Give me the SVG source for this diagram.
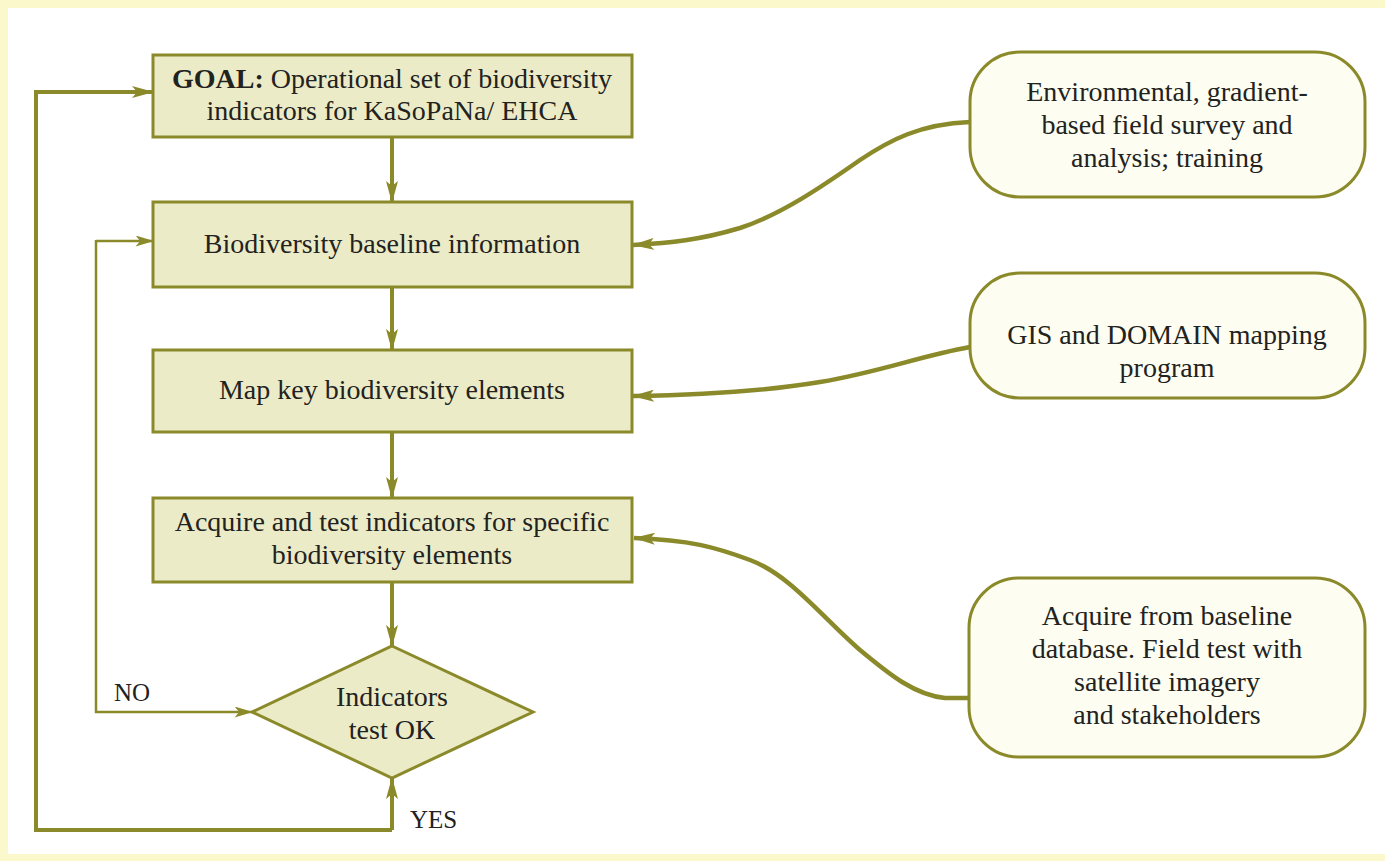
<svg xmlns="http://www.w3.org/2000/svg" width="1385" height="861" viewBox="0 0 1385 861">
<style>
.box{fill:#ecebc8;stroke:#8b8a2b;stroke-width:3}
.rbox{fill:#fdfdf1;stroke:#8b8a2b;stroke-width:3}
.t{font-family:"Liberation Serif","Times New Roman",serif;font-size:28px;fill:#222220;text-anchor:middle}
.lbl{font-family:"Liberation Serif","Times New Roman",serif;font-size:25px;fill:#222220}
.c{fill:none;stroke:#8b8a2b;stroke-width:4;stroke-linejoin:miter}
.cv{fill:none;stroke:#8b8a2b;stroke-width:4.5}
.thin{fill:none;stroke:#8b8a2b;stroke-width:2.5}
</style>
<defs>
<marker id="ah" viewBox="0 0 22 12" refX="21" refY="6" markerWidth="22" markerHeight="12" markerUnits="userSpaceOnUse" orient="auto">
<path d="M0,0 L22,6 L0,12 L5,6 z" fill="#8b8a2b"/>
</marker>
<marker id="ahs" viewBox="0 0 20 12" refX="19" refY="6" markerWidth="19" markerHeight="11" markerUnits="userSpaceOnUse" orient="auto">
<path d="M0,0 L20,6 L0,12 L5,6 z" fill="#8b8a2b"/>
</marker>
</defs>
<rect x="0" y="0" width="1385" height="861" fill="#ffffff"/>
<rect x="0" y="0" width="1385" height="8" fill="#fbf8cc"/>
<rect x="0" y="0" width="8" height="861" fill="#fbf8cc"/>
<rect x="0" y="854" width="1385" height="7" fill="#fbf8cc"/>

<g id="connectors">
<path class="c" d="M392,137 L392,202" marker-end="url(#ah)"/>
<path class="c" d="M392,287 L392,350" marker-end="url(#ah)"/>
<path class="c" d="M392,432 L392,498" marker-end="url(#ah)"/>
<path class="c" d="M392,582 L392,646" marker-end="url(#ah)"/>
<path class="c" d="M392,830 L392,778" marker-end="url(#ah)"/>
<path class="c" d="M392,830 L36,830 L36,92 L153,92" marker-end="url(#ah)"/>
<path class="thin" d="M96,241 L153,241" marker-end="url(#ahs)"/>
<path class="thin" d="M96,240 L96,712 L252,712" marker-end="url(#ahs)"/>
<path class="cv" d="M970,122 C920,124 890,140 860,160 C820,188 780,215 740,228 C700,240 670,243 633,245" marker-end="url(#ah)"/>
<path class="cv" d="M970,347 C920,356 880,372 820,382 C760,392 700,395 633,396" marker-end="url(#ah)"/>
<path class="cv" d="M970,698 L945,698 C915,695 890,675 860,650 C820,615 790,575 750,560 C715,547 690,540 634,538" marker-end="url(#ah)"/>
</g>

<g id="goal">
<rect class="box" x="153" y="55" width="479" height="82"/>
<text class="t" x="392" y="88"><tspan font-weight="bold">GOAL:</tspan> Operational set of biodiversity</text>
<text class="t" x="392" y="120">indicators for KaSoPaNa/ EHCA</text>
</g>
<g id="baseline">
<rect class="box" x="153" y="202" width="479" height="85"/>
<text class="t" x="392" y="253">Biodiversity baseline information</text>
</g>
<g id="map">
<rect class="box" x="153" y="350" width="479" height="82"/>
<text class="t" x="392" y="399">Map key biodiversity elements</text>
</g>
<g id="acquire">
<rect class="box" x="153" y="498" width="479" height="84"/>
<text class="t" x="392" y="531">Acquire and test indicators for specific</text>
<text class="t" x="392" y="564">biodiversity elements</text>
</g>
<g id="decision">
<polygon class="box" points="392,646 533,712 392,778 252,712"/>
<text class="t" x="392" y="706">Indicators</text>
<text class="t" x="392" y="739">test OK</text>
</g>
<g id="labels">
<text class="lbl" x="114" y="701">NO</text>
<text class="lbl" x="410" y="828">YES</text>
</g>
<g id="survey">
<rect class="rbox" x="970" y="52" width="395" height="145" rx="50" ry="50"/>
<text class="t" x="1167" y="101">Environmental, gradient-</text>
<text class="t" x="1167" y="134">based field survey and</text>
<text class="t" x="1167" y="167">analysis; training</text>
</g>
<g id="gis">
<rect class="rbox" x="970" y="273" width="395" height="125" rx="50" ry="50"/>
<text class="t" x="1167" y="344">GIS and DOMAIN mapping</text>
<text class="t" x="1167" y="377">program</text>
</g>
<g id="database">
<rect class="rbox" x="969" y="578" width="396" height="179" rx="50" ry="50"/>
<text class="t" x="1167" y="625">Acquire from baseline</text>
<text class="t" x="1167" y="658">database. Field test with</text>
<text class="t" x="1167" y="691">satellite imagery</text>
<text class="t" x="1167" y="724">and stakeholders</text>
</g>
</svg>
